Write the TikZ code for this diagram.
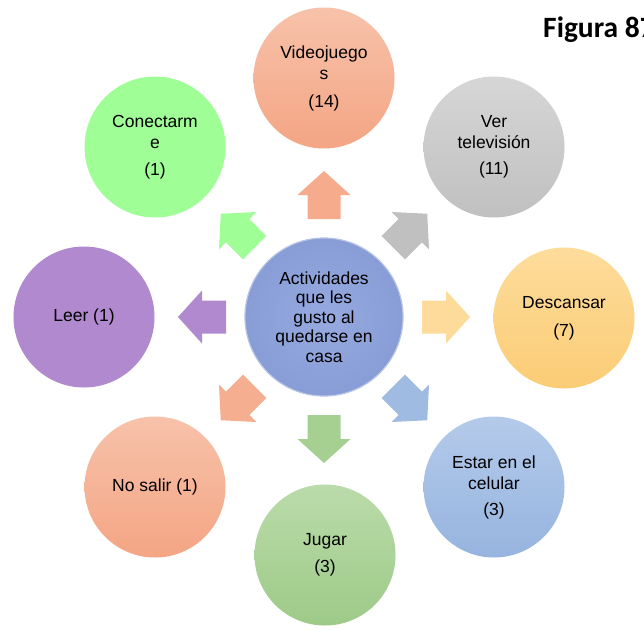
\documentclass[tikz,border=0pt]{standalone}
\usepackage{fontspec}
\setmainfont{Liberation Sans}
\newfontfamily\figfont{Carlito}
\definecolor{salT}{RGB}{247,194,170}
\definecolor{salB}{RGB}{244,165,132}
\definecolor{gryT}{RGB}{214,214,214}
\definecolor{gryB}{RGB}{192,192,192}
\definecolor{ylwT}{RGB}{253,220,155}
\definecolor{ylwB}{RGB}{251,204,118}
\definecolor{bluT}{RGB}{180,202,234}
\definecolor{bluB}{RGB}{150,180,223}
\definecolor{grnT}{RGB}{186,219,170}
\definecolor{grnB}{RGB}{158,202,136}
\definecolor{purp}{RGB}{177,137,207}
\definecolor{lgrn}{RGB}{160,254,150}
\definecolor{cenI}{RGB}{150,170,224}
\definecolor{cenO}{RGB}{136,157,214}
\newcommand\blkarrow[2]{%
  \path[fill=#2, shift={(C)}, rotate=#1]
    (98,-16.5) -- (122,-16.5) -- (122,-26.5) -- (146,0) -- (122,26.5) -- (122,16.5) -- (98,16.5) -- cycle;}
\begin{document}
\begin{tikzpicture}[x=1pt,y=-1pt,
  bubble/.style={circle, minimum size=141pt, inner sep=0pt, align=center,
    font=\fontsize{17.5}{21}\selectfont, text=black},
  hub/.style={circle, minimum size=158pt, inner sep=0pt, align=center,
    font=\fontsize{17.5}{19.4}\selectfont, text=black, inner color=cenI, outer color=cenO,
    draw=cenO!60!white, line width=1.2pt}]
\fill[white] (0,0) rectangle (644,629);
\useasboundingbox (0,0) rectangle (644,629);

\node[hub] (C) at (324,317) {Actividades\\que les\\gusto al\\quedarse en\\casa};

\node[bubble, top color=salT, bottom color=salB] (vid) at (324,78) {Videojuego\\s\\[7pt](14)};
\node[bubble, top color=gryT, bottom color=gryB] (tv) at (494,147) {Ver\\televisión\\[5pt](11)};
\node[bubble, top color=ylwT, bottom color=ylwB] (des) at (564,318) {Descansar\\[7pt](7)};
\node[bubble, top color=bluT, bottom color=bluB] (cel) at (494,487) {Estar en el\\celular\\[5pt](3)};
\node[bubble, top color=grnT, bottom color=grnB] (jug) at (325,555) {Jugar\\[6pt](3)};
\node[bubble, top color=salT, bottom color=salB] (nos) at (155,487) {No salir (1)};
\node[bubble, fill=purp] (lee) at (84,317) {Leer (1)};
\node[bubble, fill=lgrn] (con) at (155,147) {Conectarm\\e\\[6pt](1)};

\blkarrow{90}{salB!80!salT}
\blkarrow{45}{gryB}
\blkarrow{0}{ylwT}
\blkarrow{-45}{bluB!70!bluT}
\blkarrow{-90}{grnB!70!grnT}
\blkarrow{-135}{salB!70!salT}
\blkarrow{180}{purp}
\blkarrow{135}{lgrn}

\node[anchor=base west, font=\figfont\bfseries\fontsize{29.5}{32}\selectfont, inner sep=0pt] (fig) at (543,37) {Figura 87};
\end{tikzpicture}
\end{document}
